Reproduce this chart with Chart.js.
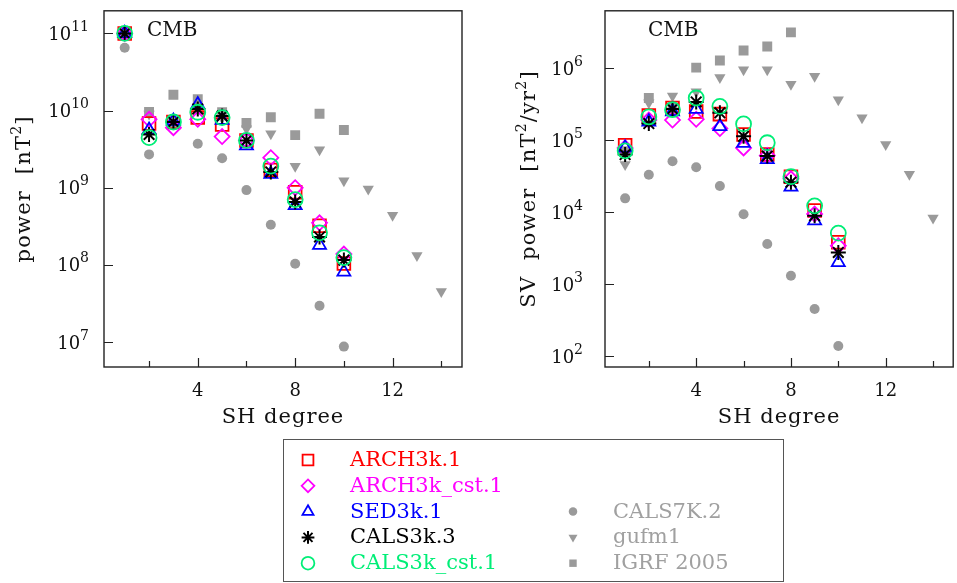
<!DOCTYPE html>
<html>
<head>
<meta charset="utf-8">
<script src="https://cdn.jsdelivr.net/npm/chart.js@4.4.1/dist/chart.umd.min.js"></script>
<style>
  html, body { margin: 0; padding: 0; background: #fff; width: 957px; height: 583px; overflow: hidden; }
  .panel { position: absolute; top: 0; height: 432px; }
  #leftPanel { left: 0; width: 480px; }
  #rightPanel { left: 480px; width: 484px; }
  #legend { position: absolute; left: 283px; top: 439px; width: 501px; height: 143px;
            border: 1px solid #555; box-sizing: border-box; }
  #legendMarks { position: absolute; left: 0; top: 0; }
  .lg { position: absolute; font: 21px "DejaVu Serif", serif; line-height: 24px; white-space: pre; }
</style>
</head>
<body>
<div class="panel" id="leftPanel"><canvas id="powerChart"></canvas></div>
<div class="panel" id="rightPanel"><canvas id="svChart"></canvas></div>
<div id="legend"><canvas id="legendMarks" width="499" height="141"></canvas></div>

<script>
// SH degrees 1..14
var degrees = [1, 2, 3, 4, 5, 6, 7, 8, 9, 10, 11, 12, 13, 14];
var xTickValues = [2, 4, 6, 8, 10, 12, 14];

// field power at the CMB [nT^2]
var powArch3k    = [1.0e11, 6.8e9, 7.1e9, 8.1e9, 6.6e9, 4.1e9, 1.7e9, 8.7e8, 3.2e8, 1.04e8];
var powArch3kCst = [1.0e11, 7.7e9, 6.0e9, 7.7e9, 4.6e9, 4.1e9, 2.45e9, 1.0e9, 3.5e8, 1.38e8];
var powSed3k     = [1.0e11, 5.6e9, 7.3e9, 1.2e10, 7.5e9, 3.5e9, 1.5e9, 5.9e8, 1.8e8, 8.1e7];
var powCals3k    = [1.0e11, 4.9e9, 7.1e9, 1.05e10, 8.5e9, 4.1e9, 1.6e9, 6.5e8, 2.3e8, 1.15e8];
var powCals3kCst = [1.0e11, 4.45e9, 7.1e9, 9.5e9, 8.1e9, 4.1e9, 1.9e9, 7.0e8, 2.6e8, 1.24e8];
var powCals7k    = [6.5e10, 2.7e9, 6.5e9, 3.7e9, 2.4e9, 9.3e8, 3.3e8, 1.03e8, 2.95e7, 8.7e6];
var powGufm1     = [1.0e11, 9.0e9, 7.0e9, 1.1e10, 8.0e9, 5.8e9, 5.0e9, 1.9e9, 3.1e9, 1.23e9, 9.6e8, 4.4e8, 1.32e8, 4.5e7];
var powIgrf      = [1.0e11, 9.6e9, 1.6e10, 1.4e10, 9.5e9, 6.9e9, 8.2e9, 4.8e9, 9.1e9, 5.6e9];

// secular variation power at the CMB [nT^2/yr^2]
var svArch3k    = [8.5e4, 2.2e5, 2.8e5, 2.5e5, 2.3e5, 1.2e5, 6.3e4, 3.1e4, 1.05e4, 3.8e3];
var svArch3kCst = [7.8e4, 1.9e5, 1.9e5, 1.95e5, 1.45e5, 7.8e4, 6.1e4, 2.9e4, 9.4e3, 3.4e3];
var svSed3k     = [7.8e4, 1.8e5, 2.5e5, 2.7e5, 1.55e5, 9.1e4, 5.4e4, 2.24e4, 7.6e3, 2.0e3];
var svCals3k    = [6.3e4, 1.7e5, 2.7e5, 3.4e5, 2.4e5, 1.13e5, 6.0e4, 2.6e4, 8.9e3, 2.75e3];
var svCals3kCst = [7.1e4, 2.1e5, 2.65e5, 3.85e5, 2.95e5, 1.68e5, 9.2e4, 3.1e4, 1.22e4, 5.1e3];
var svCals7k    = [1.55e4, 3.3e4, 5.1e4, 4.2e4, 2.3e4, 9.3e3, 3.6e3, 1.3e3, 4.5e2, 1.37e2];
var svGufm1     = [4.6e4, 3.3e5, 4.1e5, 4.7e5, 7.4e5, 9.5e5, 9.5e5, 6.0e5, 7.7e5, 3.65e5, 2.05e5, 8.7e4, 3.35e4, 8.3e3];
var svIgrf      = [7.0e4, 3.85e5, 2.8e5, 1.02e6, 1.28e6, 1.76e6, 2.0e6, 3.15e6];

var GRAY = '#9a9a9a';
var GREEN = '#00ee77';
var FONT = '"DejaVu Serif", serif';

// marker styles, shared by both panels and the legend
var styles = {
  arch3k:    { pointStyle: 'rect',     radius: 9,   rotation: 0,   color: '#ff0000', fill: false, width: 1.8 },
  arch3kCst: { pointStyle: 'rectRot',  radius: 7.5, rotation: 0,   color: '#ff00ff', fill: false, width: 1.8 },
  sed3k:     { pointStyle: 'triangle', radius: 7.5, rotation: 0,   color: '#0000ff', fill: false, width: 1.8 },
  cals3k:    { pointStyle: 'star',     radius: 7.5, rotation: 0,   color: '#000000', fill: false, width: 2 },
  cals3kCst: { pointStyle: 'circle',   radius: 7.5, rotation: 0,   color: GREEN,     fill: false, width: 1.8 },
  cals7k:    { pointStyle: 'circle',   radius: 5,   rotation: 0,   color: GRAY,      fill: true,  width: 0 },
  gufm1:     { pointStyle: 'triangle', radius: 6.5, rotation: 180, color: GRAY,      fill: true,  width: 0 },
  igrf:      { pointStyle: 'rect',     radius: 7,   rotation: 0,   color: GRAY,      fill: true,  width: 0 }
};

function series(label, values, st) {
  var pts = [];
  values.forEach(function(v, i) {
    if (v != null) pts.push({ x: degrees[i], y: v });
  });
  return {
    label: label,
    data: pts,
    showLine: false,
    pointStyle: st.pointStyle,
    pointRadius: st.radius,
    pointHoverRadius: st.radius,
    pointRotation: st.rotation,
    pointBorderWidth: st.width,
    pointBorderColor: st.color,
    pointBackgroundColor: st.fill ? st.color : 'rgba(0,0,0,0)'
  };
}

// first dataset ends up on top, so the grey reference models go last
function buildDatasets(a, aC, s, c, cC, c7, g, ig) {
  return [
    series('CALS3k_cst.1', cC, styles.cals3kCst),
    series('CALS3k.3', c, styles.cals3k),
    series('SED3k.1', s, styles.sed3k),
    series('ARCH3k_cst.1', aC, styles.arch3kCst),
    series('ARCH3k.1', a, styles.arch3k),
    series('IGRF 2005', ig, styles.igrf),
    series('gufm1', g, styles.gufm1),
    series('CALS7K.2', c7, styles.cals7k)
  ];
}

// draws a label made of plain and superscript pieces
function drawRich(ctx, parts, x, y, align, spacing) {
  var total = 0;
  ctx.letterSpacing = (spacing || 0) + 'px';
  parts.forEach(function(p) {
    ctx.font = (p.sup ? '14px ' : p.size + 'px ') + FONT;
    p.w = ctx.measureText(p.t).width;
    total += p.w;
  });
  var cx = align === 'right' ? x - total : (align === 'center' ? x - total / 2 : x);
  parts.forEach(function(p) {
    ctx.font = (p.sup ? '14px ' : p.size + 'px ') + FONT;
    ctx.fillText(p.t, cx, p.sup ? y - 8 : y);
    cx += p.w;
  });
  ctx.letterSpacing = '0px';
}

// box, inward ticks, decade labels and axis titles
function panelFrame(cfg) {
  return {
    id: 'panelFrame',
    afterDraw: function(chart) {
      var ctx = chart.ctx, a = chart.chartArea;
      var xs = chart.scales.x, ys = chart.scales.y;
      ctx.save();
      ctx.strokeStyle = '#222';
      ctx.lineWidth = 1.4;
      ctx.strokeRect(a.left, a.top, a.right - a.left, a.bottom - a.top);

      ctx.lineWidth = 1.2;
      ctx.beginPath();
      xTickValues.forEach(function(v) {
        var px = Math.round(xs.getPixelForValue(v)) + 0.5;
        var len = v % 4 === 0 ? 9 : 6;
        ctx.moveTo(px, a.bottom);
        ctx.lineTo(px, a.bottom - len);
      });
      cfg.decades.forEach(function(e) {
        var py = Math.round(ys.getPixelForValue(Math.pow(10, e))) + 0.5;
        ctx.moveTo(a.left, py);
        ctx.lineTo(a.left + 9, py);
      });
      ctx.stroke();

      ctx.fillStyle = '#111';
      ctx.textBaseline = 'middle';
      cfg.decades.forEach(function(e) {
        var py = ys.getPixelForValue(Math.pow(10, e));
        drawRich(ctx, [{ t: '10', size: 18 }, { t: String(e), sup: true }], cfg.labelRight, py + 2, 'right');
      });

      // x title
      drawRich(ctx, [{ t: 'SH degree', size: 21 }], (a.left + a.right) / 2, 418, 'center', 1);

      // "CMB" tag inside the box
      drawRich(ctx, [{ t: 'CMB', size: 20 }], cfg.tagX, 31, 'left');

      // y title, rotated
      ctx.translate(cfg.titleX, (a.top + a.bottom) / 2);
      ctx.rotate(-Math.PI / 2);
      drawRich(ctx, cfg.title, 0, 0, 'center', 1.2);
      ctx.restore();
    }
  };
}

function createPanel(selector, datasets, yMin, yMax, pad, cfg) {
  var ctx = document.getElementById(selector).getContext('2d');
  return new Chart(ctx, {
    type: 'scatter',
    data: { datasets: datasets },
    options: {
      responsive: true,
      maintainAspectRatio: false,
      animation: false,
      layout: { padding: pad },
      plugins: { legend: { display: false }, tooltip: { enabled: false } },
      scales: {
        x: {
          type: 'linear',
          min: 0.15,
          max: 14.85,
          afterBuildTicks: function(scale) {
            scale.ticks = xTickValues.map(function(v) { return { value: v }; });
          },
          // band below the box holds the tick labels
          afterFit: function(scale) { scale.height = 65; },
          grid: { display: false, drawTicks: false },
          border: { display: false },
          ticks: {
            padding: 14,
            maxRotation: 0,
            autoSkip: false,
            color: '#111',
            font: { family: 'DejaVu Serif', size: 18 },
            callback: function(v) { return v % 4 === 0 ? String(v) : ''; }
          }
        },
        y: {
          type: 'logarithmic',
          display: false,
          min: yMin,
          max: yMax
        }
      }
    },
    plugins: [panelFrame(cfg)]
  });
}

window.powerChart = createPanel('powerChart',
  buildDatasets(powArch3k, powArch3kCst, powSed3k, powCals3k, powCals3kCst, powCals7k, powGufm1, powIgrf),
  Math.pow(10, 6.675), Math.pow(10, 11.293),
  { left: 104, top: 9, right: 18, bottom: 0 },
  {
    decades: [7, 8, 9, 10, 11],
    labelRight: 89,
    titleX: 25,
    tagX: 147,
    title: [{ t: 'power  [nT', size: 21 }, { t: '2', sup: true }, { t: ']', size: 21 }]
  });

window.svChart = createPanel('svChart',
  buildDatasets(svArch3k, svArch3kCst, svSed3k, svCals3k, svCals3kCst, svCals7k, svGufm1, svIgrf),
  Math.pow(10, 1.846), Math.pow(10, 6.798),
  { left: 125, top: 9, right: 1, bottom: 0 },
  {
    decades: [2, 3, 4, 5, 6],
    labelRight: 103,
    titleX: 50,
    tagX: 168,
    title: [{ t: 'SV  power  [nT', size: 21 }, { t: '2', sup: true }, { t: '/yr', size: 21 }, { t: '2', sup: true }, { t: ']', size: 21 }]
  });

// legend: two columns of marker + label
var legendRows = [
  { key: 'arch3k',    label: 'ARCH3k.1',     col: 0, row: 0 },
  { key: 'arch3kCst', label: 'ARCH3k_cst.1', col: 0, row: 1 },
  { key: 'sed3k',     label: 'SED3k.1',      col: 0, row: 2 },
  { key: 'cals3k',    label: 'CALS3k.3',     col: 0, row: 3 },
  { key: 'cals3kCst', label: 'CALS3k_cst.1', col: 0, row: 4 },
  { key: 'cals7k',    label: 'CALS7K.2',     col: 1, row: 2 },
  { key: 'gufm1',     label: 'gufm1',        col: 1, row: 3 },
  { key: 'igrf',      label: 'IGRF 2005',    col: 1, row: 4 }
];
var legendScale = { cals7k: 0.85, gufm1: 0.8, igrf: 0.75 };

function createLegend() {
  var box = document.getElementById('legend');
  var c = document.getElementById('legendMarks').getContext('2d');
  legendRows.forEach(function(r) {
    var st = styles[r.key];
    var cy = 20 + r.row * 25.8;
    var mx = r.col === 0 ? 24 : 289;
    var k = legendScale[r.key] || 0.85;
    c.save();
    c.fillStyle = st.fill ? st.color : 'rgba(0,0,0,0)';
    c.strokeStyle = st.color;
    c.lineWidth = st.width;
    Chart.helpers.drawPoint(c, {
      pointStyle: st.pointStyle,
      radius: st.radius * k,
      rotation: st.rotation,
      borderWidth: st.width
    }, mx, cy);
    c.restore();

    var span = document.createElement('div');
    span.className = 'lg';
    span.textContent = r.label;
    span.style.left = (r.col === 0 ? 66 : 329) + 'px';
    span.style.top = (cy - 13) + 'px';
    span.style.color = st.fill ? '#a0a0a0' : st.color;
    box.appendChild(span);
  });
}
createLegend();
</script>
</body>
</html>
